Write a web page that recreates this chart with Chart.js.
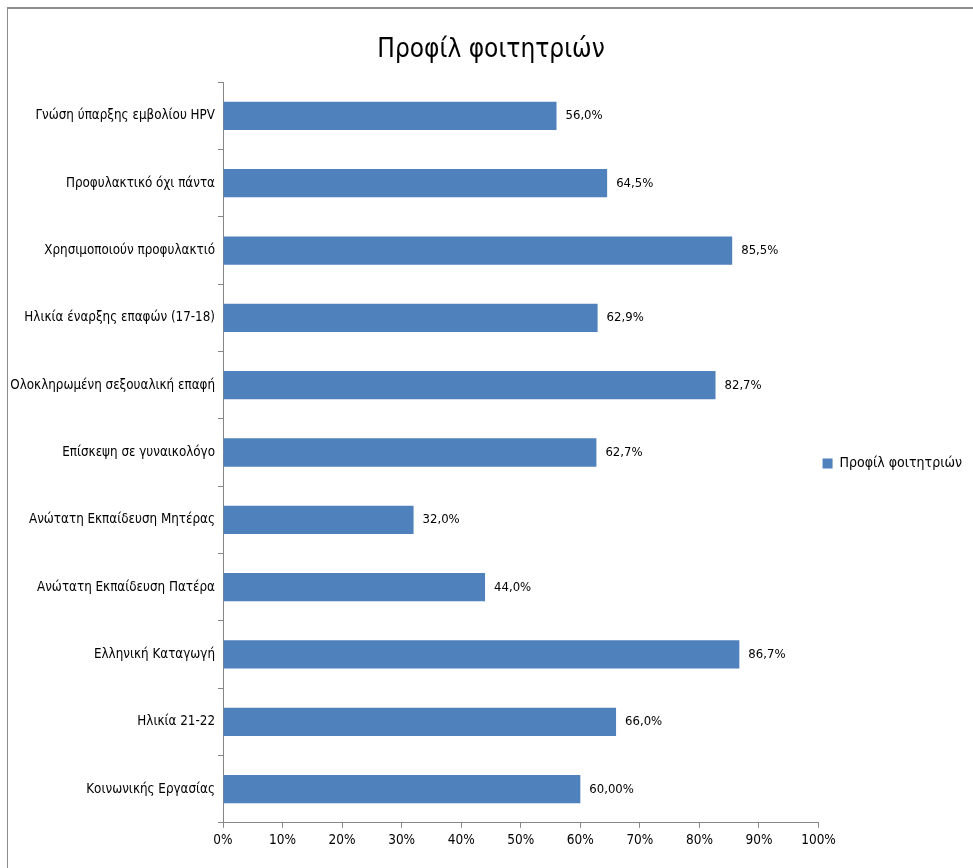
<!DOCTYPE html>
<html>
<head>
<meta charset="utf-8">
<script src="https://cdn.jsdelivr.net/npm/chart.js@4.4.1/dist/chart.umd.min.js"></script>
<style>
  html, body { margin: 0; padding: 0; background: #fff; }
  #wrap { position: relative; width: 973px; height: 868px; }
  #frame { position: absolute; left: 7px; top: 7px; width: 980px; height: 900px; border-left: 1px solid #8c8c8c; border-top: 2px solid #8c8c8c; box-sizing: border-box; }
  canvas { position: absolute; left: 0; top: 0; }
</style>
</head>
<body>
<div id="wrap">
  <div id="frame"></div>
  <canvas id="c" width="973" height="868"></canvas>
</div>
<script>
const categories = [
  "Γνώση ύπαρξης εμβολίου HPV",
  "Προφυλακτικό όχι πάντα",
  "Χρησιμοποιούν προφυλακτιό",
  "Ηλικία έναρξης επαφών (17-18)",
  "Ολοκληρωμένη σεξουαλική επαφή",
  "Επίσκεψη σε γυναικολόγο",
  "Ανώτατη Εκπαίδευση Μητέρας",
  "Ανώτατη Εκπαίδευση Πατέρα",
  "Ελληνική Καταγωγή",
  "Ηλικία 21-22",
  "Κοινωνικής Εργασίας"
];
const values = [56.0, 64.5, 85.5, 62.9, 82.7, 62.7, 32.0, 44.0, 86.7, 66.0, 60.0];
const valueLabels = ["56,0%", "64,5%", "85,5%", "62,9%", "82,7%", "62,7%", "32,0%", "44,0%", "86,7%", "66,0%", "60,00%"];
const seriesName = "Προφίλ φοιτητριών";
const chartTitle = "Προφίλ φοιτητριών";

const FONT = "'DejaVu Sans Condensed', 'Liberation Sans', sans-serif";

const valueLabelPlugin = {
  id: 'valueLabels',
  afterDatasetsDraw(chart) {
    const ctx = chart.ctx;
    const meta = chart.getDatasetMeta(0);
    ctx.save();
    ctx.font = "13px 'DejaVu Sans Condensed', sans-serif";
    ctx.fillStyle = '#000';
    ctx.textAlign = 'left';
    ctx.textBaseline = 'middle';
    meta.data.forEach((bar, i) => {
      ctx.fillText(valueLabels[i], bar.x + 9, bar.y);
    });
    ctx.restore();
  }
};

new Chart(document.getElementById('c'), {
  type: 'bar',
  data: {
    labels: categories,
    datasets: [{
      label: seriesName,
      data: values,
      backgroundColor: '#4F81BD',
      borderWidth: 0,
      categoryPercentage: 1.0,
      barPercentage: 0.42
    }]
  },
  options: {
    indexAxis: 'y',
    responsive: false,
    animation: false,
    devicePixelRatio: 1,
    layout: { padding: { left: 10, right: 1, top: 10, bottom: 14 } },
    plugins: {
      title: {
        display: true,
        text: chartTitle,
        color: '#000',
        font: { family: FONT, size: 26, weight: 'normal' },
        padding: { top: 25, bottom: 16 }
      },
      legend: {
        position: 'right',
        title: {
          display: true,
          text: ' ',
          font: { family: FONT, size: 14 },
          padding: { top: 0, bottom: 46 }
        },
        labels: {
          color: '#000',
          font: { family: FONT, size: 14 },
          boxWidth: 10,
          boxHeight: 10,
          padding: 4
        }
      },
      tooltip: { enabled: false }
    },
    scales: {
      x: {
        min: 0,
        max: 100,
        ticks: {
          stepSize: 10,
          color: '#000',
          font: { family: FONT, size: 13.5 },
          padding: 5,
          callback: v => v + '%'
        },
        grid: { drawOnChartArea: false, drawTicks: true, tickLength: 5, color: '#868686' },
        border: { color: '#868686' }
      },
      y: {
        ticks: {
          color: '#000',
          font: { family: FONT, size: 13.3 },
          padding: 3
        },
        grid: { offset: true, drawOnChartArea: false, drawTicks: true, tickLength: 5, color: '#868686' },
        border: { color: '#868686' },
        afterFit(scale) { scale.width = 213; }
      }
    }
  },
  plugins: [valueLabelPlugin]
});
</script>
</body>
</html>
